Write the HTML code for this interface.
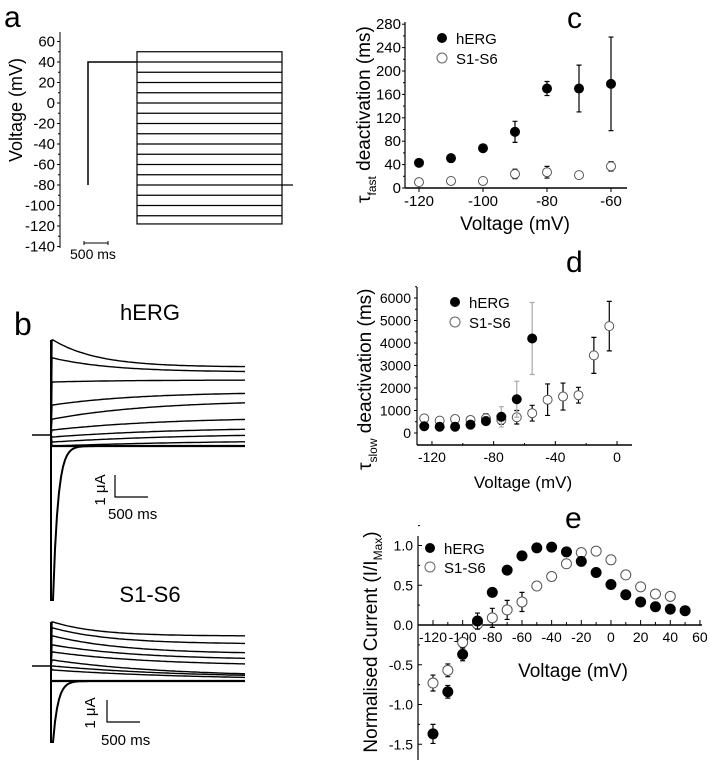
<!DOCTYPE html>
<html><head><meta charset="utf-8"><style>
body{margin:0;background:#fff}
svg{display:block;font-family:"Liberation Sans",sans-serif}
</style></head><body>
<svg id="fig" width="710" height="770" viewBox="0 0 710 770">
<g id="pa"></g>
<g id="pb"></g>
<g id="pc"></g>
<g id="pd"></g>
<g id="pe"></g>
</svg>
<script>
// Panel a
const aLevels=[40,30,20,10,0,-10,-20,-30,-40,-50,-60,-70,-80,-90,-100,-110];
const aTicks=[60,40,20,0,-20,-40,-60,-80,-100,-120,-140];
// Panel b
const bHergStart=[340,358,382,405,419,430,437,442,446];
const bHergEnd=[367,372,380,392,400,417,427,433,440];
const bS16Start=[622,628,636,645,652,660,666,670];
const bS16End=[636,644,654,660,666,677,678,680];
// Panel c
const cV=[-120,-110,-100,-90,-80,-70,-60];
const cHerg=[43,51,68,96,170,170,178];
const cHergErr=[3,3,3,18,12,40,80];
const cS16=[10,12,12,24,27,22,37];
const cS16Err=[3,3,4,8,10,4,8];
const cYTicks=[0,40,80,120,160,200,240,280];
const cXTicks=[-120,-100,-80,-60];
// Panel d
const dVh=[-125,-115,-105,-95,-85,-75,-65,-55];
const dHerg=[300,280,280,370,530,720,1500,4200];
const dHergErr=[150,100,100,100,200,450,800,1600];
const dVs=[-125,-115,-105,-95,-85,-75,-65,-55,-45,-35,-25,-15,-5];
const dS16=[650,550,620,580,650,580,700,880,1480,1620,1680,3450,4750];
const dS16Err=[150,120,150,150,200,200,300,350,700,600,350,800,1100];
const dYTicks=[0,1000,2000,3000,4000,5000,6000];
const dXTicks=[-120,-80,-40,0];
// Panel e
const eVh=[-120,-110,-100,-90,-80,-70,-60,-50,-40,-30,-20,-10,0,10,20,30,40,50];
const eHerg=[-1.37,-0.84,-0.37,0.05,0.41,0.69,0.87,0.97,0.98,0.92,0.80,0.66,0.51,0.38,0.29,0.23,0.20,0.18];
const eHergErr=[0.12,0.08,0.08,0.1,0.05,0.02,0.02,0.02,0.02,0.02,0.02,0.02,0.02,0.02,0.02,0.02,0.02,0.02];
const eVs=[-120,-110,-100,-90,-80,-70,-60,-50,-40,-30,-20,-10,0,10,20,30,40];
const eS16=[-0.73,-0.57,-0.22,0.01,0.09,0.19,0.29,0.49,0.61,0.77,0.91,0.93,0.82,0.63,0.48,0.39,0.36];
const eS16Err=[0.1,0.08,0.06,0.06,0.12,0.12,0.12,0.03,0.03,0.04,0.03,0.04,0.04,0.04,0.04,0.04,0.04];
const eYTicks=[-1.5,-1.0,-0.5,0.0,0.5,1.0];
const eXTicks=[-120,-100,-80,-60,-40,-20,0,20,40,60];

const NS="http://www.w3.org/2000/svg";
function mk(parent,tag,attrs,text){const e=document.createElementNS(NS,tag);for(const k in attrs)e.setAttribute(k,attrs[k]);if(text!==undefined)e.textContent=text;parent.appendChild(e);return e;}
function fmt1(v){return v.toFixed(1);}

// ---------- Panel a ----------
(function(){
const g=document.getElementById('pa');
const y=v=>103-v*1.025;
let t=mk(g,'text',{x:4,y:27,'font-size':30});t.textContent='a';

let ax=mk(g,'line',{x1:60,y1:32,x2:60,y2:248,stroke:'#000','stroke-width':1});

aTicks.forEach(v=>{
  let l=mk(g,'line',{x1:57,x2:60,y1:y(v),y2:y(v),stroke:'#000'});
  
  if(v>-140){let m=mk(g,'line',{x1:58,x2:60,y1:y(v-10),y2:y(v-10),stroke:'#000'});
  }
  let tx=mk(g,'text',{x:55,y:y(v)+5,'font-size':15,'text-anchor':'end'},String(v));
  
});
let yl=mk(g,'text',{x:0,y:0,'font-size':18,'text-anchor':'middle',transform:'translate(22,110) rotate(-90)'},'Voltage (mV)');

let p=mk(g,'path',{d:`M88 ${y(-80)} V${y(40)} H137`,fill:'none',stroke:'#000','stroke-width':1.5});

let box=mk(g,'rect',{x:137,y:y(50),width:145,height:y(-118)-y(50),fill:'none',stroke:'#000','stroke-width':1.2});

aLevels.forEach(v=>{
  let l=mk(g,'line',{x1:137,x2:v===-80?293:282,y1:y(v),y2:y(v),stroke:'#000','stroke-width':1.2});
  
});
let sb=mk(g,'path',{d:'M84 241 V245 M84 243 H108 M108 241 V245',stroke:'#000',fill:'none'});

let st=mk(g,'text',{x:70,y:259,'font-size':14},'500 ms');

})();

// ---------- Panel b ----------
(function(){
const g=document.getElementById('pb');
let t=mk(g,'text',{x:14,y:335,'font-size':32},'b');

function family(starts,ends,base,y0,spikeBottom,title,titleY,name){
  let tt=mk(g,'text',{x:150,y:titleY,'font-size':22,'text-anchor':'middle'},title);
  
  let bl=mk(g,'line',{x1:32,x2:52,y1:base,y2:base,stroke:'#000','stroke-width':1.5});
  
  starts.forEach((s,i)=>{
    const e=ends[i];const tau=45+i*14;let d=`M51 ${base} L52 ${s}`;
    for(let x=53;x<=245;x+=3){const yy=e+(s-e)*Math.exp(-(x-53)/tau);d+=` L${x} ${yy.toFixed(1)}`;}
    let p=mk(g,'path',{d:d,fill:'none',stroke:'#000','stroke-width':1.4});
    
  });
  let fl=mk(g,'line',{x1:52,x2:245,y1:y0,y2:y0,stroke:'#000','stroke-width':2.2});
  
  let d=`M51 ${starts[0]} L51 ${spikeBottom} L53 ${spikeBottom}`;
  for(let x=53;x<=100;x+=2){const yy=y0+(spikeBottom-y0)*Math.exp(-(x-53)/5);d+=` L${x} ${yy.toFixed(1)}`;}
  let sp=mk(g,'path',{d:d,fill:'none',stroke:'#000','stroke-width':2});
  
}
family(bHergStart,bHergEnd,435,446,600,'hERG',320,'herg');
family(bS16Start,bS16End,666,681,742,'S1-S6',602,'s1s6');
[[115,475,497,100,490,108,519],[107,700,722,90,713,101,745]].forEach(a=>{
  let s=mk(g,'path',{d:`M${a[0]} ${a[1]} V${a[2]} H${a[0]+33}`,fill:'none',stroke:'#000','stroke-width':1.2});
  
  let u=mk(g,'text',{x:0,y:0,'font-size':15,'text-anchor':'middle',transform:`translate(${a[3]+5},${a[4]}) rotate(-90)`},'1 μA');
  
  let m=mk(g,'text',{x:a[5],y:a[6],'font-size':15},'500 ms');
  
});
})();

// ---------- generic scatter ----------
function scatter(g,X,Y,vs,vals,errs,filled,name,errColor,r){
  r=r||5;
  vs.forEach((v,i)=>{
    const cx=X(v),cy=Y(vals[i]),e1=Y(vals[i]+errs[i]),e2=Y(vals[i]-errs[i]);
    let eb=mk(g,'path',{d:`M${cx} ${e1} V${e2} M${cx-2.5} ${e1} H${cx+2.5} M${cx-2.5} ${e2} H${cx+2.5}`,stroke:errColor||'#000','stroke-width':1.2,fill:'none'});
    
    let c=mk(g,'circle',{cx:cx,cy:cy,r:r,fill:filled?'#000':'#fff',stroke:filled?'#000':'#555','stroke-width':1});
    
  });
}
function legend(g,x,y1,y2,fs,pfx){
  let a=mk(g,'circle',{cx:x,cy:y1,r:5,fill:'#000'});
  let b=mk(g,'circle',{cx:x,cy:y2,r:5,fill:'#fff',stroke:'#666'});
  let c=mk(g,'text',{x:x+14,y:y1+6,'font-size':fs},'hERG');
  let d=mk(g,'text',{x:x+14,y:y2+6,'font-size':fs},'S1-S6');
}
function axes(g,x0,x1,y0,y1,yAt,pfx){
  let a=mk(g,'line',{x1:x0,x2:x0,y1:y0,y2:y1,stroke:'#000','stroke-width':1.2});
  let b=mk(g,'line',{x1:x0,x2:x1,y1:yAt,y2:yAt,stroke:'#000','stroke-width':1.5});
}

// ---------- Panel c ----------
(function(){
const g=document.getElementById('pc');
const X=v=>419+(v+120)*3.2, Y=v=>188-v*0.585;
let t=mk(g,'text',{x:567,y:28,'font-size':30},'c');
axes(g,405,627,22,188,188,'c');
cYTicks.forEach(v=>{
  let l=mk(g,'line',{x1:402,x2:405,y1:Y(v),y2:Y(v),stroke:'#000'});
  if(v<280){let m=mk(g,'line',{x1:403,x2:405,y1:Y(v+20),y2:Y(v+20),stroke:'#000'});}
  let tx=mk(g,'text',{x:401,y:Y(v)+5,'font-size':15,'text-anchor':'end'},String(v));
});
cXTicks.forEach(v=>{
  let l=mk(g,'line',{x1:X(v),x2:X(v),y1:188,y2:192,stroke:'#000'});
  let tx=mk(g,'text',{x:X(v),y:206,'font-size':15,'text-anchor':'middle'},String(v));
});
let xl=mk(g,'text',{x:515,y:230,'font-size':19,'text-anchor':'middle'},'Voltage (mV)');
let yl=mk(g,'text',{x:0,y:0,'font-size':19,transform:'translate(370,203) rotate(-90)'});

mk(yl,'tspan',{},'τ');mk(yl,'tspan',{'font-size':12,dy:6},'fast');mk(yl,'tspan',{dy:-6},' deactivation (ms)');
scatter(g,X,Y,cV,cS16,cS16Err,false,'c-s1s6',null,4.5);
scatter(g,X,Y,cV,cHerg,cHergErr,true,'c-herg',null,4.5);
legend(g,442,38,58,15,'c');
})();

// ---------- Panel d ----------
(function(){
const g=document.getElementById('pd');
const X=v=>617+v*1.542, Y=v=>433-v*0.0225;
let t=mk(g,'text',{x:566,y:272,'font-size':30},'d');
axes(g,417,632,287,445,445,'d');
dYTicks.forEach(v=>{
  let l=mk(g,'line',{x1:414,x2:417,y1:Y(v),y2:Y(v),stroke:'#000'});
  let m=mk(g,'line',{x1:415,x2:417,y1:Y(v+500),y2:Y(v+500),stroke:'#000'});
  let tx=mk(g,'text',{x:411,y:Y(v)+5,'font-size':14,'text-anchor':'end'},String(v));
});
dXTicks.forEach(v=>{
  let l=mk(g,'line',{x1:X(v),x2:X(v),y1:445,y2:441,stroke:'#000'});
  if(v<0){let m=mk(g,'line',{x1:X(v+20),x2:X(v+20),y1:445,y2:443,stroke:'#000'});}
  let tx=mk(g,'text',{x:X(v),y:462,'font-size':14,'text-anchor':'middle'},String(v));
});
let xl=mk(g,'text',{x:523,y:488,'font-size':17,'text-anchor':'middle'},'Voltage (mV)');
let yl=mk(g,'text',{x:0,y:0,'font-size':19,transform:'translate(371,470) rotate(-90)'});

mk(yl,'tspan',{},'τ');mk(yl,'tspan',{'font-size':12,dy:6},'slow');mk(yl,'tspan',{dy:-6},' deactivation (ms)');
scatter(g,X,Y,dVs,dS16,dS16Err,false,'d-s1s6',null,4.5);
scatter(g,X,Y,dVh,dHerg,dHergErr,true,'d-herg','#aaa',4.5);
legend(g,455,302,322,15,'d');
})();

// ---------- Panel e ----------
(function(){
const g=document.getElementById('pe');
const X=v=>433+(v+120)*1.483, Y=v=>625-v*79.5;
let t=mk(g,'text',{x:565,y:528,'font-size':30},'e');
axes(g,418,702,536,760,625,'e');
eYTicks.forEach(v=>{
  let l=mk(g,'line',{x1:418,x2:422,y1:Y(v),y2:Y(v),stroke:'#000'});
  let m=mk(g,'line',{x1:418,x2:420,y1:Y(v+0.25),y2:Y(v+0.25),stroke:'#000'});
  let tx=mk(g,'text',{x:413,y:Y(v)+5,'font-size':14,'text-anchor':'end'},fmt1(v));
});
eXTicks.forEach(v=>{
  let l=mk(g,'line',{x1:X(v),x2:X(v),y1:625,y2:620,stroke:'#000'});
  if(v<60){let m=mk(g,'line',{x1:X(v+10),x2:X(v+10),y1:625,y2:622,stroke:'#000'});}
  let tx=mk(g,'text',{x:X(v),y:642,'font-size':14,'text-anchor':'middle'},String(v));
});
let xl=mk(g,'text',{x:573,y:677,'font-size':19,'text-anchor':'middle'},'Voltage (mV)');
let yl=mk(g,'text',{x:0,y:0,'font-size':19,'text-anchor':'middle',transform:'translate(377,642) rotate(-90)'});

mk(yl,'tspan',{},'Normalised Current (I/I');mk(yl,'tspan',{'font-size':12,dy:5},'Max');mk(yl,'tspan',{dy:-5},')');
scatter(g,X,Y,eVs,eS16,eS16Err,false,'e-s1s6');
scatter(g,X,Y,eVh,eHerg,eHergErr,true,'e-herg');
legend(g,430,548,567,15,'e');
})();
</script>
</body></html>
